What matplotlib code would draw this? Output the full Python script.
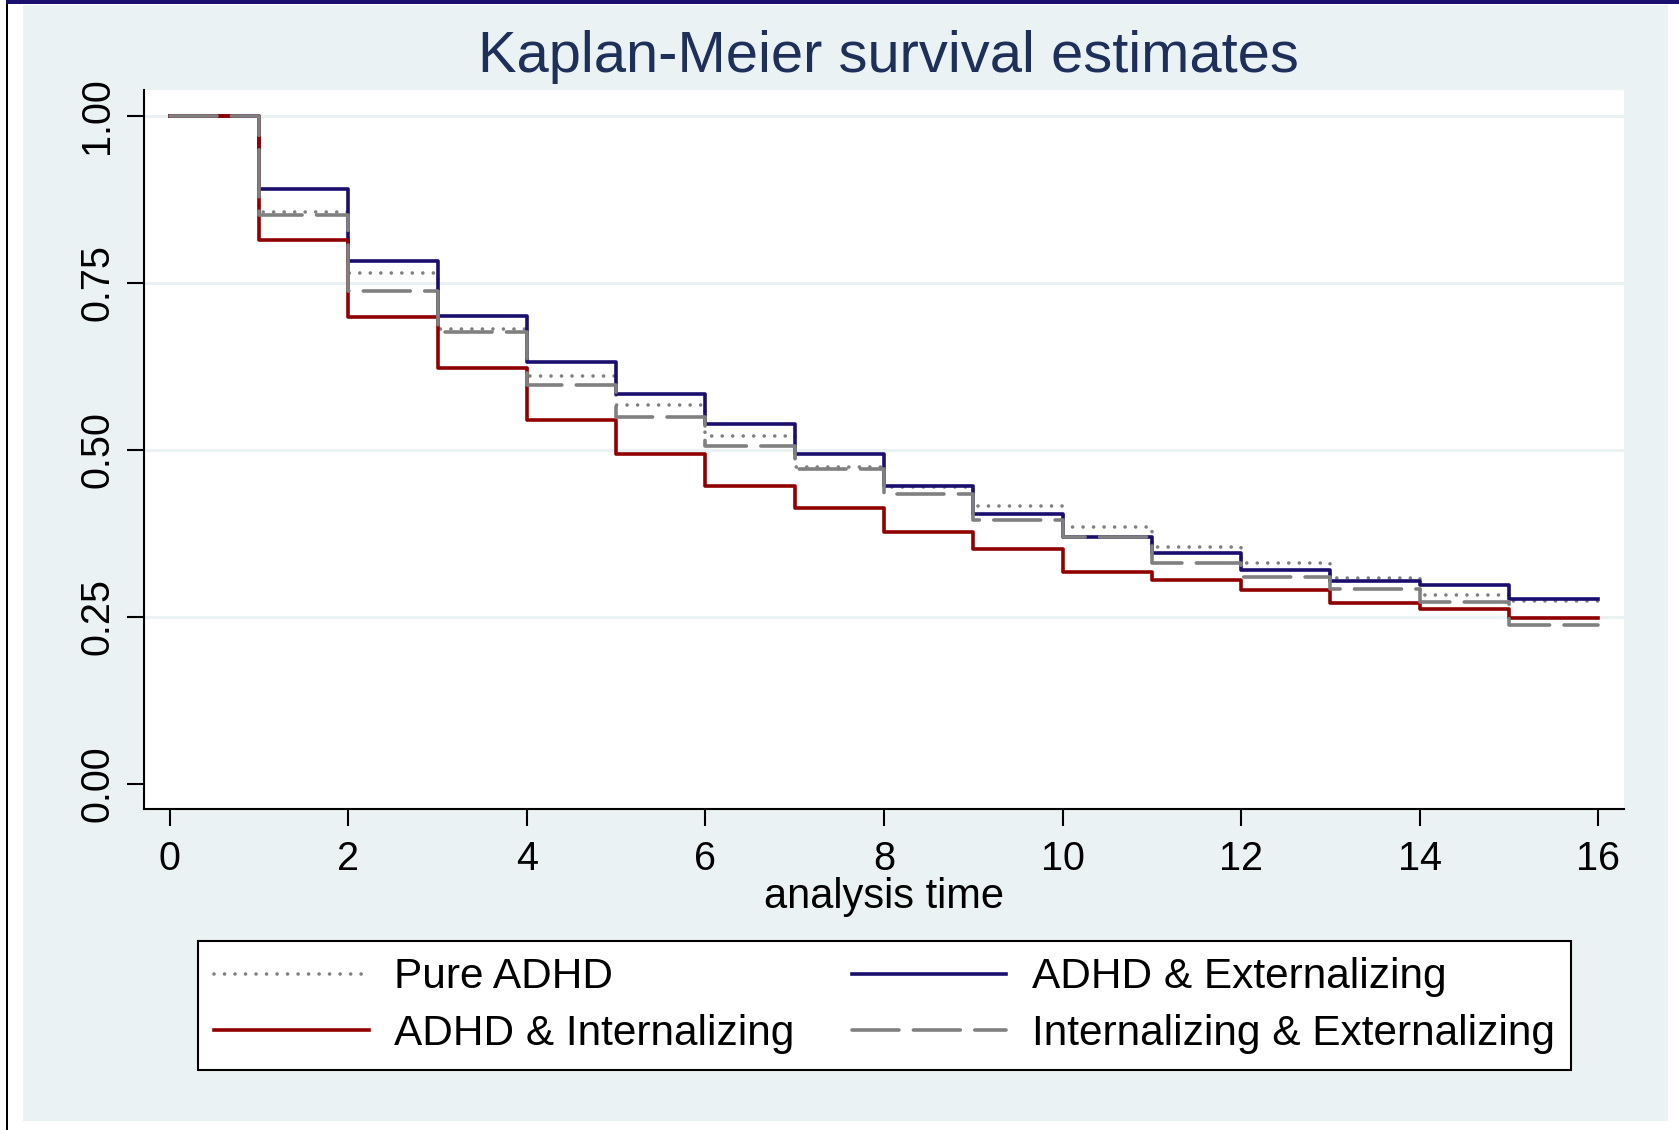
import numpy as np
import matplotlib
matplotlib.use("Agg")
import matplotlib.pyplot as plt
from matplotlib.patches import Rectangle

plt.rcParams['font.family'] = ['Liberation Sans', 'DejaVu Sans']

# ---------------- data ----------------
t = np.arange(0, 17)   # analysis time 0..16
pure_adhd = [1.0, 0.856, 0.764, 0.680, 0.610, 0.567, 0.521, 0.474, 0.444,
             0.416, 0.385, 0.354, 0.331, 0.308, 0.283, 0.274]
adhd_ext = [1.0, 0.890, 0.782, 0.700, 0.632, 0.584, 0.538, 0.493, 0.445,
            0.404, 0.369, 0.346, 0.320, 0.303, 0.298, 0.277]
adhd_int = [1.0, 0.814, 0.699, 0.623, 0.545, 0.494, 0.446, 0.413, 0.377,
            0.352, 0.317, 0.305, 0.290, 0.271, 0.262, 0.248]
int_ext = [1.0, 0.851, 0.737, 0.676, 0.597, 0.549, 0.506, 0.471, 0.434,
           0.395, 0.369, 0.331, 0.309, 0.292, 0.272, 0.237]
labels = ['Pure ADHD', 'ADHD & Externalizing', 'ADHD & Internalizing',
          'Internalizing & Externalizing']
yticks = [0.0, 0.25, 0.5, 0.75, 1.0]
xticks = np.arange(0, 17, 2)

W, H = 1679, 1130
BG = '#eaf2f3'
NAVY = '#1a0e6e'
MAROON = '#900000'
GRAY = '#808080'

def px(x0, y0, x1, y1):
    # pixel box (top-left origin) -> figure fraction rect
    return (x0 / W, 1 - y1 / H), (x1 - x0) / W, (y1 - y0) / H

fig = plt.figure(figsize=(W / 100, H / 100), dpi=100, facecolor='white')

# graph region background + frame bits
for (x0, y0, x1, y1), c in [((23, 4.5, 1668, 1120.7), BG),
                            ((6, 0, 8, 1130), 'black'),
                            ((6, 0, 1679, 4), NAVY)]:
    xy, w, h = px(x0, y0, x1, y1)
    fig.add_artist(Rectangle(xy, w, h, transform=fig.transFigure,
                             facecolor=c, edgecolor='none', zorder=-1))

ax = fig.add_axes([144 / W, 1 - 809.3 / H, (1624 - 144) / W, (809.3 - 90) / H])
ax.set_facecolor('white')

for v in yticks[1:]:
    ax.axhline(v, color=BG, lw=2.2, zorder=1)

def km(s):
    return list(s) + [s[-1]]

l1, = ax.step(t, km(pure_adhd), where='post', color=GRAY, lw=2.6,
              linestyle=(0, (0.01, 2.9)), dash_capstyle='round', zorder=2)
l2, = ax.step(t, km(adhd_ext), where='post', color=NAVY, lw=2.6, zorder=3)
l3, = ax.step(t, km(adhd_int), where='post', color=MAROON, lw=2.6, zorder=4)
l4, = ax.step(t, km(int_ext), where='post', color=GRAY, lw=2.6,
              linestyle=(0, (13, 4)), dash_capstyle='round', zorder=5)

ax.set_xlim(-0.29, 16.29)
ax.set_ylim(-0.0383, 1.0385)
ax.set_xticks(xticks)
ax.set_yticks(yticks)
ax.set_yticklabels([f'{v:.2f}' for v in yticks])
ax.tick_params(axis='both', direction='out', length=11.9, width=1.5,
               color='black', labelsize=28.5)
ax.tick_params(axis='x', pad=10.5)
ax.tick_params(axis='y', pad=8, labelrotation=90)
for lab in ax.get_yticklabels():
    lab.set_va('center')
for side in ['top', 'right']:
    ax.spines[side].set_visible(False)
for side in ['left', 'bottom']:
    ax.spines[side].set_linewidth(1.5)

ax.set_xlabel('analysis time', fontsize=30, va='baseline')
ax.xaxis.set_label_coords(0.5, (809.3 - 908) / (809.3 - 90))

fig.text(888 / W, 1 - 71.5 / H, 'Kaplan-Meier survival estimates',
         fontsize=41.7, color='#1e2f5a', ha='center', va='baseline')

bx0, by0, bx1, by1 = 198, 942, 1571, 1069
leg = fig.legend([l1, l3, l2, l4], [labels[0], labels[2], labels[1], labels[3]],
                 ncol=2, loc='center', mode='expand', borderaxespad=0,
                 bbox_to_anchor=(bx0 / W, 1 - by1 / H, (bx1 - bx0) / W, (by1 - by0) / H),
                 fontsize=30.5, handlelength=3.65, handletextpad=0.6,
                 borderpad=0.38, labelspacing=0.38, fancybox=False,
                 framealpha=1, edgecolor='black', facecolor='white')
leg.get_frame().set_linewidth(1.5)

fig.savefig('out.png', dpi=100, facecolor='white')
